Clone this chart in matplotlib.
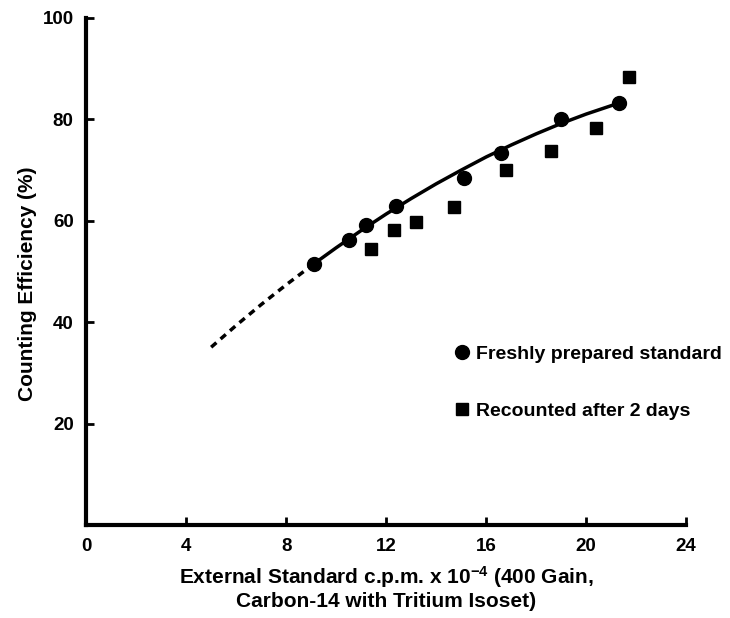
import matplotlib
matplotlib.use('Agg')
import matplotlib.pyplot as plt

plt.rcParams['font.family'] = ['Liberation Sans', 'DejaVu Sans']
plt.rcParams['font.weight'] = 'bold'
plt.rcParams['mathtext.fontset'] = 'custom'
plt.rcParams['mathtext.rm'] = 'Liberation Sans:bold'
plt.rcParams['mathtext.default'] = 'rm'

# freshly prepared standard (circles)
fresh_x = [9.1, 10.5, 11.2, 12.4, 15.1, 16.6, 19.0, 21.3]
fresh_y = [51.5, 56.2, 59.2, 62.9, 68.4, 73.4, 80.1, 83.2]

# recounted after 2 days (squares)
recount_x = [11.4, 12.3, 13.2, 14.7, 16.8, 18.6, 20.4, 21.7]
recount_y = [54.4, 58.2, 59.8, 62.7, 70.0, 73.8, 78.3, 88.4]

# fitted curve
curve_x = [9.1, 10, 11, 12, 13, 14, 15, 16, 17, 18, 19, 20, 21.3]
curve_y = [51.5, 54.7, 58.1, 61.35, 64.4, 67.3, 70.0, 72.6, 74.95, 77.15, 79.2, 81.05, 83.2]

# dashed extrapolation
extrap_x = [5, 6, 7, 8, 9.1]
extrap_y = [35.1, 39.4, 43.5, 47.4, 51.5]

x_ticks = [0, 4, 8, 12, 16, 20, 24]
y_ticks = [20, 40, 60, 80, 100]

fig = plt.figure(figsize=(7.3, 6.18), dpi=100)
ax = fig.add_axes([0.118, 0.150, 0.822, 0.821])

ax.plot(extrap_x, extrap_y, color='black', lw=2.5, ls=(0, (2.0, 1.6)))
ax.plot(curve_x, curve_y, color='black', lw=2.5)
ax.plot(fresh_x, fresh_y, 'o', color='black', ms=10, ls='none',
        label='Freshly prepared standard')
ax.plot(recount_x, recount_y, 's', color='black', ms=9, ls='none',
        label='Recounted after 2 days')

ax.set_xlim(0, 24)
ax.set_ylim(0, 100)
ax.set_xticks(x_ticks)
ax.set_yticks(y_ticks)
ax.tick_params(direction='in', length=6, width=2, labelsize=13.5, pad=9)

for side in ['top', 'right']:
    ax.spines[side].set_visible(False)
for side in ['left', 'bottom']:
    ax.spines[side].set_linewidth(3)

ax.set_ylabel('Counting Efficiency (%)', fontsize=15, fontweight='bold')
ax.yaxis.set_label_coords(-0.082, 0.477)
ax.set_xlabel('External Standard c.p.m. x 10$^{-4}$ (400 Gain,\nCarbon-14 with Tritium Isoset)',
              fontsize=15, fontweight='bold', labelpad=7, linespacing=1.1)

ax.legend(loc='upper left', bbox_to_anchor=(0.617, 0.354), frameon=False,
          fontsize=14, handlelength=0.6, handletextpad=0.4, labelspacing=2.0,
          borderaxespad=0, borderpad=0)

fig.savefig('out.png', dpi=100)
